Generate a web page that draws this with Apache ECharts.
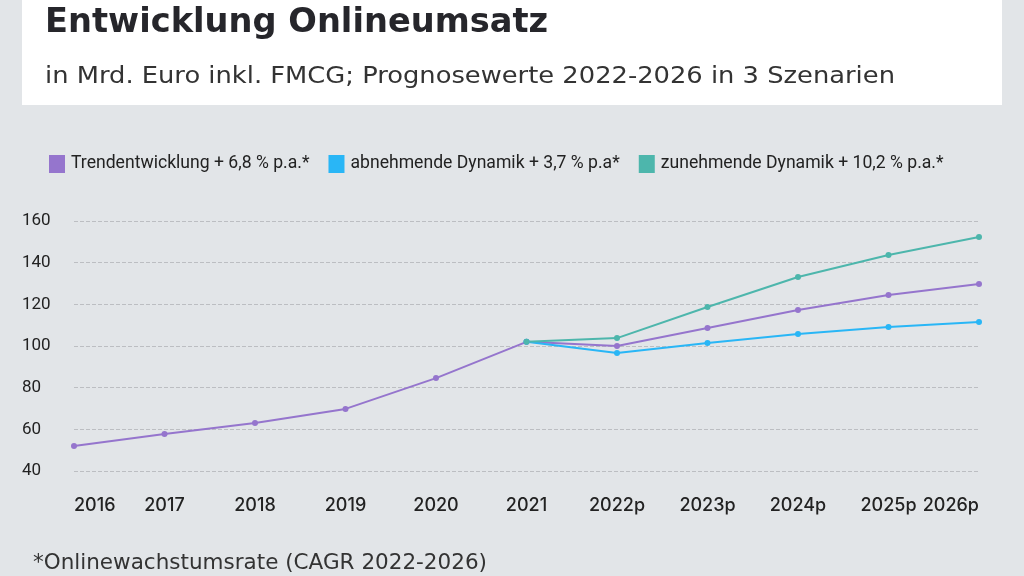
<!DOCTYPE html>
<html>
<head>
<meta charset="utf-8">
<script src="https://cdn.jsdelivr.net/npm/echarts@6/dist/echarts.min.js"></script>
<style>
  html, body { margin: 0; padding: 0; background: #e2e5e8; }
  #chart { width: 1024px; height: 576px; }
</style>
</head>
<body>
<div id="chart"></div>
<script>
let years = ["2016", "2017", "2018", "2019", "2020", "2021", "2022p", "2023p", "2024p", "2025p", "2026p"]
let trend = [52, 57.8, 63, 69.8, 84.6, 102, 100, 108.6, 117.3, 124.5, 129.8]
let slower = [null, null, null, null, null, 102, 96.6, 101.4, 105.8, 109.1, 111.5]
let faster = [null, null, null, null, null, 102, 103.8, 118.7, 133.1, 143.7, 152.3]

let seriesNames = [
    "Trendentwicklung + 6,8 % p.a.*",
    "abnehmende Dynamik + 3,7 % p.a*",
    "zunehmende Dynamik + 10,2 % p.a.*"
]
let colors = ["#9575cd", "#29b6f6", "#4db6ac"]

let titleText = "Entwicklung Onlineumsatz"
let subtitleText = "in Mrd. Euro inkl. FMCG; Prognosewerte 2022-2026 in 3 Szenarien"
let footnoteText = "*Onlinewachstumsrate (CAGR 2022-2026)"

let chartDom = document.getElementById("chart")
let myChart = echarts.init(chartDom)

function lineSeries(name, data, color) {
    return {
        name: name,
        type: "line",
        data: data,
        symbol: "circle",
        symbolSize: 6,
        connectNulls: false,
        itemStyle: { color: color },
        lineStyle: { color: color, width: 2 }
    }
}

let option = {
    backgroundColor: "#e2e5e8",
    animation: false,
    graphic: [
        {
            type: "rect",
            left: 22,
            top: 0,
            shape: { width: 980, height: 105 },
            style: { fill: "#ffffff" },
            z: -1
        },
        {
            // title, stretched a little to get the wide look of the original face
            type: "text",
            x: 45,
            y: 7,
            scaleX: 1.02,
            style: {
                text: titleText,
                font: "bold 33px 'DejaVu Sans'",
                fill: "#26262b"
            }
        },
        {
            type: "text",
            x: 45,
            y: 66,
            scaleX: 1.12,
            style: {
                text: subtitleText,
                font: "23px 'DejaVu Sans'",
                fill: "#333333"
            }
        },
        {
            type: "text",
            x: 33,
            y: 552,
            style: {
                text: footnoteText,
                font: "21.5px 'DejaVu Sans'",
                fill: "#333333"
            }
        }
    ],
    legend: {
        left: 44,
        top: 150,
        icon: "rect",
        itemWidth: 16,
        itemHeight: 18,
        itemGap: 19,
        textStyle: { fontFamily: "Roboto", fontSize: 17.6, color: "#222222", padding: [0, 0, 0, 1] },
        data: seriesNames
    },
    grid: {
        left: 74,
        right: 45,
        top: 221,
        bottom: 105
    },
    xAxis: {
        type: "category",
        data: years,
        boundaryGap: false,
        axisLine: { show: false },
        axisTick: { show: false },
        axisLabel: {
            margin: 26,
            fontFamily: "Inter",
            fontWeight: 500,
            fontSize: 18,
            color: "#222222",
            alignMinLabel: "left",
            alignMaxLabel: "right"
        }
    },
    yAxis: {
        type: "value",
        min: 40,
        max: 160,
        interval: 20,
        axisLine: { show: false },
        axisTick: { show: false },
        axisLabel: {
            margin: 52,
            align: "left",
            fontFamily: "Roboto",
            fontSize: 17,
            color: "#222222"
        },
        splitLine: {
            lineStyle: { color: "#bcbec2", type: "dashed", width: 1 }
        }
    },
    series: [
        lineSeries(seriesNames[0], trend, colors[0]),
        lineSeries(seriesNames[1], slower, colors[1]),
        lineSeries(seriesNames[2], faster, colors[2])
    ]
}

option && myChart.setOption(option)
</script>
</body>
</html>
